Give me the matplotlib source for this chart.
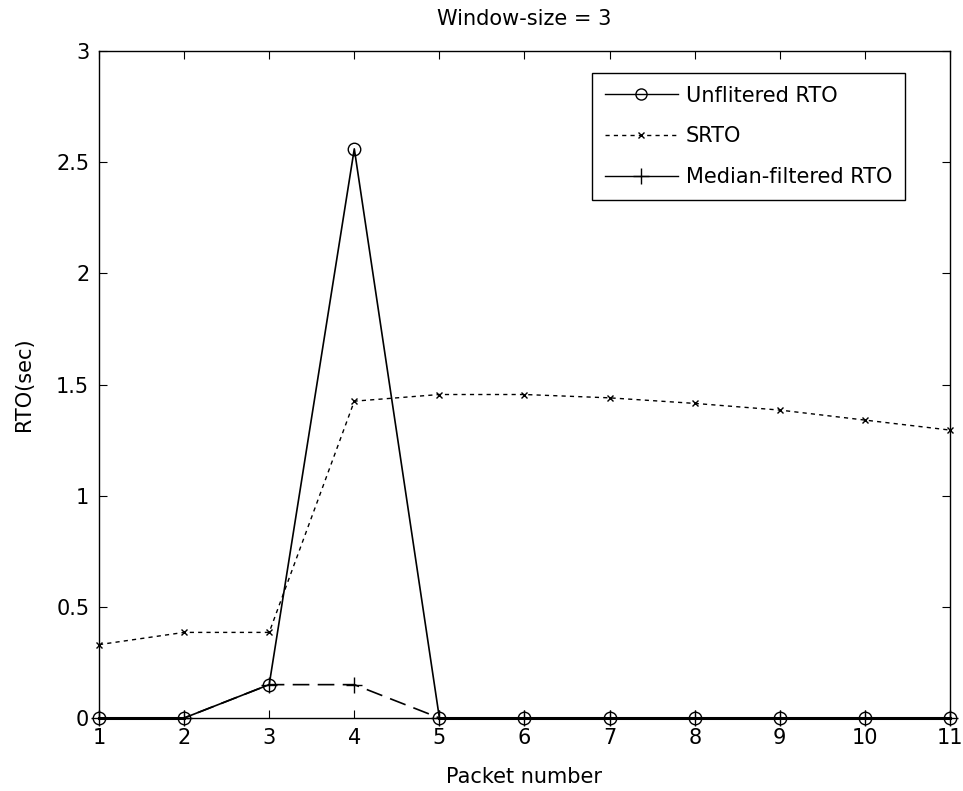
import numpy as np
import matplotlib.pyplot as plt
from matplotlib.lines import Line2D

packets = [1, 2, 3, 4, 5, 6, 7, 8, 9, 10, 11]
unfiltered = [0, 0, 0.15, 2.56, 0, 0, 0, 0, 0, 0, 0]
srto = [0.33, 0.385, 0.385, 1.425, 1.455, 1.455, 1.44, 1.415, 1.385, 1.34, 1.295]
median = [0, 0, 0.15, 0.15, 0, 0, 0, 0, 0, 0, 0]

fs = 15

fig = plt.figure(figsize=(9.63, 7.91), dpi=100)
ax = fig.add_axes([0.1028, 0.0923, 0.8837, 0.8432])

ax.plot(packets, unfiltered, '-', color='black', lw=1.2, marker='o', ms=9, mfc='none', mew=1.0, clip_on=False, zorder=3)
ax.plot(packets, srto, '--', color='black', lw=1.0, marker='x', ms=5, mew=1.0, dashes=(3, 3), clip_on=False)
ax.plot(packets, median, '-', color='black', lw=1.2, marker='+', ms=12, mew=1.0, dashes=(10, 5), clip_on=False, zorder=3)
ax.plot(packets[4:], median[4:], '-', color='black', lw=2.2, clip_on=False)
ax.plot(packets[:2], median[:2], '-', color='black', lw=2.2, clip_on=False)

ax.set_xlim(1, 11)
ax.set_ylim(0, 3)
ax.set_xticks(packets)
ax.set_yticks([0, 0.5, 1, 1.5, 2, 2.5, 3])
ax.set_yticklabels(['0', '0.5', '1', '1.5', '2', '2.5', '3'])
ax.tick_params(direction='in', length=6, labelsize=fs, top=True, right=True, pad=7)
for s in ax.spines.values():
    s.set_linewidth(1.0)

ax.set_xlabel('Packet number', fontsize=fs, labelpad=14)
ax.set_ylabel('RTO(sec)', fontsize=fs, labelpad=16)
ax.set_title('Window-size = 3', fontsize=fs, pad=19)

handles = [
    Line2D([], [], color='black', lw=1.0, marker='o', ms=8, mfc='none'),
    Line2D([], [], color='black', lw=1.0, ls='--', dashes=(3, 3), marker='x', ms=5),
    Line2D([], [], color='black', lw=1.0, marker='+', ms=12),
]
leg = ax.legend(handles, ['Unflitered RTO', 'SRTO', 'Median-filtered RTO'],
                loc='upper right', bbox_to_anchor=(0.947, 0.967), borderaxespad=0,
                fontsize=fs, fancybox=False, edgecolor='black', framealpha=1,
                handlelength=3.5, handletextpad=0.4,
                borderpad=0.6, labelspacing=1.0)
leg.get_frame().set_linewidth(1.0)

fig.savefig('out.png', dpi=100)
